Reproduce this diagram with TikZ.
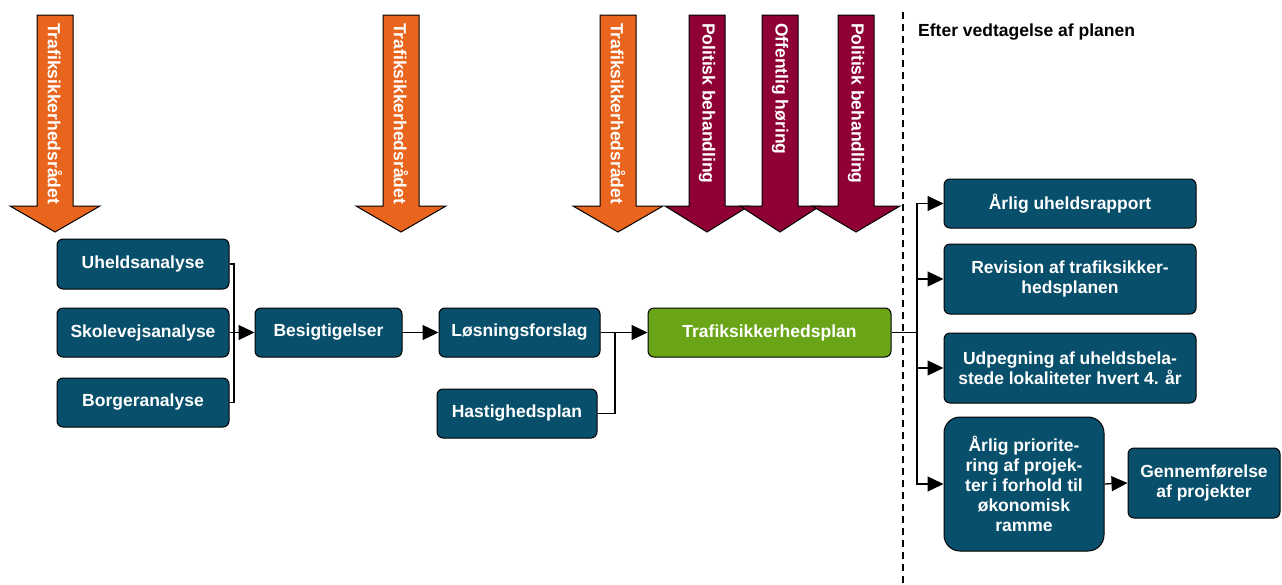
\documentclass[tikz,border=0pt]{standalone}
\usepackage{fontspec}
\setmainfont{Liberation Sans}
\usetikzlibrary{arrows.meta}
\definecolor{boxblue}{RGB}{8,79,107}
\definecolor{plangreen}{RGB}{106,164,23}
\definecolor{arrorange}{RGB}{233,101,29}
\definecolor{arrmaroon}{RGB}{143,0,52}
\begin{document}
\begin{tikzpicture}[x=1pt,y=-1pt,
  font=\fontsize{17.5}{20}\selectfont\bfseries,
  box/.style={draw=black, line width=1pt, fill=boxblue, rounded corners=6pt, text=white, align=center, inner sep=0pt},
  conn/.style={line width=1.3pt},
  arr/.style={conn, -{Triangle[length=16pt,width=15pt]}},
  bigarrow/.style={draw=black, line width=1pt},
  arrtext/.style={text=white, rotate=-90, anchor=west, inner sep=0pt}
]
\useasboundingbox (0,0) rectangle (1282,584);

% big downward arrows
\foreach \c/\col/\t/\w [count=\i] in {55/arrorange/Trafiksikkerhedsrådet/45,
  401/arrorange/Trafiksikkerhedsrådet/45,
  618/arrorange/Trafiksikkerhedsrådet/45,
  707/arrmaroon/Politisk behandling/42,
  780/arrmaroon/Offentlig høring/40,
  856/arrmaroon/Politisk behandling/44}{
  \draw[bigarrow, fill=\col] ({\c-18},15) -- ({\c+18},15) -- ({\c+18},206) -- ({\c+\w},206)
     -- (\c,232) -- ({\c-\w},206) -- ({\c-18},206) -- cycle;
  \node[arrtext] (lab\i) at (\c,23) {\t};
}

% dashed separator
\coordinate (dtop) at (903,12);
\coordinate (dbot) at (903,584);
\draw[line width=1.4pt, dash pattern=on 7pt off 5pt] (dtop) -- (dbot);
\node[anchor=base west, inner sep=0pt] (head) at (918,36) {Efter vedtagelse af planen};

% boxes
\node[box, minimum width=172pt, minimum height=50pt] (u) at (143,264) {Uheldsanalyse};
\node[box, minimum width=172pt, minimum height=49pt] (s) at (143,332.5) {Skolevejsanalyse};
\node[box, minimum width=172pt, minimum height=49pt] (b) at (143,402.5) {Borgeranalyse};
\node[box, minimum width=147pt, minimum height=49pt] (besig) at (328.5,332.5) {Besigtigelser};
\node[box, minimum width=161pt, minimum height=49pt] (los) at (519.5,332.5) {Løsningsforslag};
\node[box, minimum width=160pt, minimum height=49pt] (hast) at (517,413.5) {Hastighedsplan};
\node[box, fill=plangreen, minimum width=243pt, minimum height=49pt] (plan) at (769.5,332.5) {Trafiksikkerhedsplan};
\node[box, minimum width=252pt, minimum height=49pt] (r1) at (1070,203.5) {Årlig uheldsrapport};
\node[box, minimum width=252pt, minimum height=70pt] (r2) at (1070,279) {Revision af trafiksikker-\\hedsplanen};
\node[box, minimum width=252pt, minimum height=70pt] (r3) at (1070,368) {Udpegning af uheldsbela-\\stede lokaliteter hvert 4. år};
\node[box, rounded corners=16pt, minimum width=160pt, minimum height=134pt] (r4) at (1024,484) {Årlig priorite-\\ring af projek-\\ter i forhold til\\økonomisk\\ramme};
\node[box, minimum width=152pt, minimum height=70pt] (r5) at (1204,483) {Gennemførelse\\af projekter};

% connectors
\coordinate (j1) at (234,332.5);
\draw[conn] (u.east) -| (j1);
\draw[conn] (b.east) -| (j1);
\draw[conn] (s.east) -- (j1);
\draw[arr] (j1) -- (besig.west);
\draw[arr] (besig.east) -- (los.west);
\coordinate (j2) at (615,332.5);
\draw[conn] (los.east) -- (j2);
\draw[conn] (hast.east) -| (j2);
\draw[arr] (j2) -- (plan.west);
\coordinate (j3) at (917,332.5);
\draw[conn] (plan.east) -- (j3);
\draw[arr] (j3) |- (r1.west);
\draw[arr] (j3) |- (r2.west);
\draw[arr] (j3) |- (r3.west);
\draw[arr] (j3) |- (r4.west);
\draw[arr] (r4.east) -- (r5.west);
\end{tikzpicture}
\end{document}
